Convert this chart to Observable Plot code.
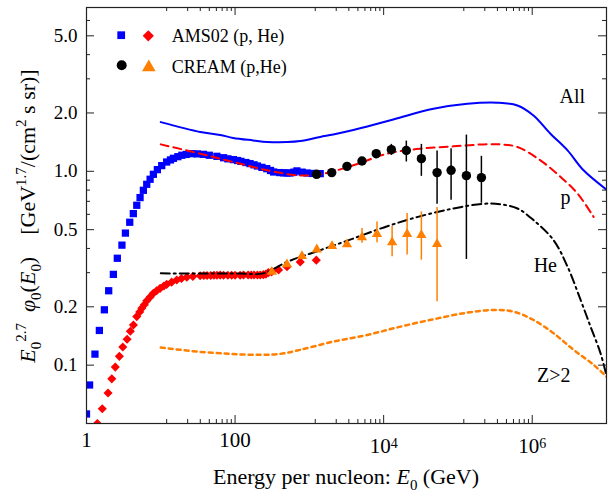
<!DOCTYPE html>
<html><head><meta charset="utf-8">
<script src="https://cdn.jsdelivr.net/npm/d3@7"></script>
<script src="https://cdn.jsdelivr.net/npm/@observablehq/plot@0.6"></script>
<style>body{margin:0;background:#fff} svg text{font-family:'Liberation Serif','Times New Roman',serif}</style>
</head><body><div id="chart"></div>
<script>
// ---------- data ----------
// AMS02 proton (blue squares): energy per nucleon (GeV), E^2.7 flux
const amsP_E = [1.0,1.1,1.3,1.49,1.74,1.99,2.3,2.6,3.0,3.34,3.82,4.27,4.75,5.26,5.83,6.47,7.18,7.95,9.0,10.3,12,13.5,14.8,17,19.2,22,26.2,31,37.5,45,56.9,70,80,95,108,120,140,159,180,200,230,267,300,330,400,450,500,550,620,680,800,930,1100,1400];
const amsP_V = [0.056,0.079,0.114,0.151,0.193,0.242,0.294,0.356,0.416,0.48,0.546,0.605,0.668,0.732,0.798,0.857,0.91,0.965,1.02,1.07,1.117,1.145,1.167,1.19,1.21,1.222,1.233,1.23,1.223,1.21,1.195,1.175,1.16,1.149,1.137,1.125,1.11,1.096,1.08,1.065,1.048,1.032,1.01,0.992,0.985,0.982,0.98,0.98,0.99,1.005,0.99,0.98,0.975,0.973];
// AMS02 helium (red diamonds)
const amsHe_E = [1.4,1.63,1.95,2.19,2.44,2.77,3.08,3.52,3.89,4.28,4.75,5.2,5.55,6.0,6.48,7.2,7.94,8.8,9.8,11,12,14,16.4,19,22.4,27,33.9,38,42,47,52,57,63,70,80,90,100,117,130,150,165,180,200,218,240,260,280,310,385,500,754,1240];
const amsHe_V = [0.05,0.0596,0.0718,0.085,0.0977,0.111,0.124,0.136,0.1496,0.161,0.178,0.188,0.1965,0.205,0.215,0.225,0.235,0.242,0.249,0.256,0.261,0.268,0.275,0.28,0.284,0.287,0.289,0.29,0.29,0.29,0.291,0.291,0.2915,0.291,0.291,0.291,0.291,0.291,0.292,0.292,0.292,0.292,0.292,0.292,0.293,0.295,0.3,0.303,0.31,0.322,0.341,0.348];
// CREAM proton (black circles) with error bars
const creamP_E = [1250,2000,3210,5110,7950,12700,20200,32200,52400,80900,130000,207000];
const creamP_V = [0.965,0.985,1.061,1.13,1.233,1.293,1.28,1.162,0.985,1.012,0.95,0.928];
const creamP_Lo = [0.95,0.97,1.045,1.11,1.2,1.209,1.117,0.942,0.676,0.709,0.351,0.684];
const creamP_Hi = [0.98,1.0,1.077,1.15,1.265,1.377,1.432,1.377,1.272,1.309,1.538,1.195];
// CREAM helium (orange triangles) with error bars
const creamHe_E = [313,499,795,1260,2020,3210,5110,8140,13000,20700,32200,52400];
const creamHe_V = [0.303,0.331,0.365,0.395,0.411,0.42,0.456,0.474,0.43,0.474,0.469,0.421];
const creamHe_Lo = [0.297,0.324,0.357,0.386,0.401,0.405,0.425,0.428,0.362,0.37,0.348,0.2125];
const creamHe_Hi = [0.309,0.338,0.373,0.404,0.421,0.437,0.507,0.548,0.521,0.606,0.617,0.65];
// model curves
const curveAll_E = [10,33.9,63,94.3,175,271,504,754,1403,2099,3908,6030,13500,16800,46800,134000,340000,632000,1.04e6,1.76e6,2.99e6,4.91e6,1.03e7];
const curveAll_V = [1.794,1.597,1.541,1.487,1.444,1.418,1.415,1.432,1.505,1.55,1.635,1.704,1.852,1.896,2.102,2.23,2.258,2.187,1.942,1.563,1.282,1.012,0.798];
const curveP_E = [10,33.9,94.3,271,687,1403,3908,11200,31200,86900,221000,374000,634000,1.29e6,2.41e6,4.07e6,6.7e6];
const curveP_V = [1.377,1.233,1.117,1.012,0.954,0.965,1.074,1.233,1.309,1.345,1.377,1.377,1.334,1.139,0.935,0.768,0.582];
const curveHe_E = [10,33.9,117,239,504,1403,3908,11200,31200,86900,221000,374000,634000,1.04e6,1.94e6,2.99e6,4.48e6,6.1e6,8.32e6,1.0e7];
const curveHe_V = [0.2975,0.297,0.297,0.2975,0.3413,0.392,0.4503,0.521,0.5867,0.643,0.68,0.676,0.643,0.56,0.441,0.322,0.217,0.158,0.115,0.088];
const curveZ_E = [10,30.8,85.9,218,405,754,2099,6030,16800,46800,134000,301000,560000,1.04e6,1.94e6,3.6e6,6.7e6,1.05e7];
const curveZ_V = [0.1232,0.1175,0.1143,0.113,0.1143,0.12,0.1323,0.1432,0.158,0.1725,0.1866,0.1926,0.1888,0.171,0.146,0.12,0.1004,0.0857];
// curve labels
const labelText = ["All","p","He","Z>2"];
const labelE = [3.46e6,2.81e6,1.5e6,1.95e6];
const labelV = [2.258,0.676,0.301,0.0823];
// ticks
const xMajorTicks = [1,100,1e4,1e6];
const xTickLabels = ["1","100","10^4","10^6"];
const xMinorTicks = [12,23,34,45,56,67,78,89,1200,2300,3400,4500,5600,6700,7800,8900,120000,230000,340000,450000,560000,670000,780000,890000];
const yMajorTicks = [0.1,0.2,0.5,1,2,5];
const yTickLabels = ["0.1","0.2","0.5","1.0","2.0","5.0"];
const yMinorTicks = [0.3,0.4,0.6,0.7,0.8,0.9,3,4,6];
const legendLabels = ["AMS02 (p, He)","CREAM (p,He)"];

// ---------- build tables ----------
const zip = (E,V) => E.map((e,i)=>({E:e, v:V[i]}));
const amsP = zip(amsP_E, amsP_V);
const amsHe = zip(amsHe_E, amsHe_V);
const creamP = creamP_E.map((e,i)=>({E:e, v:creamP_V[i], lo:creamP_Lo[i], hi:creamP_Hi[i]}));
const creamHe = creamHe_E.map((e,i)=>({E:e, v:creamHe_V[i], lo:creamHe_Lo[i], hi:creamHe_Hi[i]}));
const cAll = zip(curveAll_E, curveAll_V), cP = zip(curveP_E, curveP_V), cHe = zip(curveHe_E, curveHe_V), cZ = zip(curveZ_E, curveZ_V);
const labels = labelText.map((t,i)=>({t, E:labelE[i], v:labelV[i]}));
const xLab = new Map(xMajorTicks.map((d,i)=>[d,xTickLabels[i]]));
const yLab = new Map(yMajorTicks.map((d,i)=>[d,yTickLabels[i]]));

const W=608, H=491, mL=86, mR=2, mT=7, mB=68;
const pw=W-mL-mR, ph=H-mT-mB;
const FONT = "'Liberation Serif','Times New Roman',serif";
const BLUE="#0000ff", RED="#ff0000", ORANGE="#ff8000", AX="#222";
const majL=8, minL=4;

const plot = Plot.plot({
  width: W, height: H,
  marginLeft: mL, marginRight: mR, marginTop: mT, marginBottom: mB,
  style: {fontFamily: FONT, fontSize: "19px", background: "white", color: "black"},
  x: {type: "log", domain: [1, 1e7]},
  y: {type: "log", domain: [0.05, 7]},
  marks: [
    Plot.dot(amsP, {x:"E", y:"v", symbol:"square", r:4.1, fill:BLUE, clip:true}),
    Plot.dot(amsHe, {x:"E", y:"v", symbol:"diamond2", r:4.1, fill:RED, clip:true}),
    Plot.line(cAll, {x:"E", y:"v", stroke:BLUE, strokeWidth:2, curve:"catmull-rom", clip:true}),
    Plot.line(cP, {x:"E", y:"v", stroke:RED, strokeWidth:2, strokeDasharray:"8,5", curve:"catmull-rom", clip:true}),
    Plot.line(cHe, {x:"E", y:"v", stroke:"black", strokeWidth:2, strokeDasharray:"9,4,2,4", curve:"catmull-rom", clip:true}),
    Plot.line(cZ, {x:"E", y:"v", stroke:ORANGE, strokeWidth:2.5, strokeDasharray:"4,4", curve:"catmull-rom", clip:true}),
    Plot.ruleX(creamP, {x:"E", y1:"lo", y2:"hi", stroke:"black", strokeWidth:1.5}),
    Plot.dot(creamP, {x:"E", y:"v", r:4.7, fill:"black"}),
    Plot.ruleX(creamHe, {x:"E", y1:"lo", y2:"hi", stroke:ORANGE, strokeWidth:1.5}),
    Plot.dot(creamHe, {x:"E", y:"v", symbol:"triangle", r:3.8, fill:ORANGE}),
    Plot.text(labels, {x:"E", y:"v", text:"t", fontSize:20, fontFamily:FONT, lineAnchor:"bottom", fill:"black"}),
    Plot.frame({stroke:AX, strokeWidth:1.2}),
    Plot.ruleX(xMajorTicks, {x:d=>d, insetTop:ph-majL, stroke:AX}),
    Plot.ruleX(xMajorTicks, {x:d=>d, insetBottom:ph-majL, stroke:AX}),
    Plot.ruleX(xMinorTicks, {x:d=>d, insetTop:ph-minL, stroke:AX}),
    Plot.ruleX(xMinorTicks, {x:d=>d, insetBottom:ph-minL, stroke:AX}),
    Plot.ruleY(yMajorTicks, {y:d=>d, insetRight:pw-majL, stroke:AX}),
    Plot.ruleY(yMajorTicks, {y:d=>d, insetLeft:pw-majL, stroke:AX}),
    Plot.ruleY(yMinorTicks, {y:d=>d, insetRight:pw-minL, stroke:AX}),
    Plot.ruleY(yMinorTicks, {y:d=>d, insetLeft:pw-minL, stroke:AX}),
    Plot.axisX(xMajorTicks, {anchor:"bottom", tickSize:0, tickPadding:9, fontSize:21, fontFamily:FONT, tickFormat:d=>xLab.get(d), label:null}),
    Plot.axisY(yMajorTicks, {anchor:"left", tickSize:0, tickPadding:9, fontSize:19, fontFamily:FONT, tickFormat:d=>yLab.get(d), label:null})
  ]
});
document.getElementById("chart").appendChild(plot);

const svg = d3.select(plot);
svg.attr("font-family", FONT).style("font-family", FONT);
svg.selectAll('g[aria-label="x-axis tick label"] text').each(function(){
  const t = this.textContent;
  if (t.includes("^")) {
    const [b,e] = t.split("^");
    const s = d3.select(this); s.text(null);
    s.append("tspan").attr("dy", 6).text(b);
    s.append("tspan").attr("dy", -5).attr("font-size", 14).text(e);
  }
});

function rich(sel, parts, fs) {
  let cur = 0;
  parts.forEach(p => {
    const target = p.s === "sub" ? 0.25*fs : p.s === "sup" ? -0.42*fs : 0;
    const ts = sel.append("tspan").text(p.t).attr("dy", target - cur);
    if (p.s === "sub" || p.s === "sup") ts.attr("font-size", fs*0.68);
    if (p.i) ts.attr("font-style", "italic");
    if (p.dx) ts.attr("dx", p.dx);
    cur = target;
  });
}
const yt = svg.append("text").attr("transform","translate(35,216) rotate(-90)")
  .attr("text-anchor","middle").attr("font-size",22).attr("font-family",FONT).style("white-space","pre").attr("fill","black");
rich(yt, [
  {t:"E", i:true},{t:"0", s:"sub"},{t:"2.7", s:"sup"},{t:"  "},{t:"φ", i:true},{t:"0", s:"sub"},{t:"("},{t:"E", i:true},{t:"0", s:"sub"},{t:")"},
  {t:"[GeV", dx:22},{t:"1.7", s:"sup"},{t:"/(cm"},{t:"2", s:"sup"},{t:" s sr)]"}
], 22);
const xt = svg.append("text").attr("x",346).attr("y",484).attr("text-anchor","middle")
  .attr("font-size",22).attr("font-family",FONT).style("white-space","pre").attr("fill","black");
rich(xt, [{t:"Energy per nucleon: "},{t:"E", i:true},{t:"0", s:"sub"},{t:" (GeV)"}], 22);

const lg = svg.append("g").attr("font-family",FONT).attr("font-size",18).attr("text-anchor","start");
lg.append("path").attr("transform","translate(121.2,35.2)").attr("d", d3.symbol(d3.symbolSquare, 60)()).attr("fill",BLUE);
lg.append("path").attr("transform","translate(148.3,35.8)").attr("d", d3.symbol(d3.symbolDiamond2, 80)()).attr("fill",RED);
lg.append("text").attr("x",171.7).attr("y",42).attr("text-anchor","start").text(legendLabels[0]);
lg.append("circle").attr("cx",121.7).attr("cy",65.3).attr("r",5).attr("fill","black");
lg.append("path").attr("transform","translate(148.8,67.3)").attr("d", d3.symbol(d3.symbolTriangle, 80)()).attr("fill",ORANGE);
lg.append("text").attr("x",171.7).attr("y",72.5).attr("text-anchor","start").text(legendLabels[1]);
</script>
</body></html>
